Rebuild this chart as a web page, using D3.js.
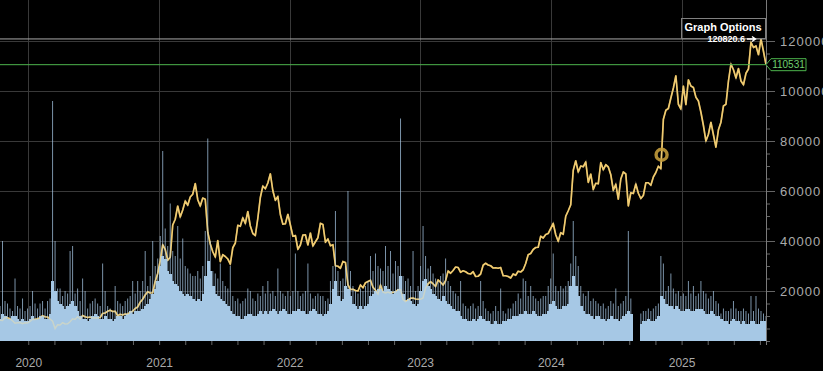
<!DOCTYPE html>
<html>
<head>
<meta charset="utf-8">
<script src="https://cdn.jsdelivr.net/npm/d3@7"></script>
<style>
body{margin:0;background:#000;}
svg{display:block;font-family:"Liberation Sans",Arial,sans-serif;}
</style>
</head>
<body>
<script>
//weekly closes (Mondays), first week 2019-10-14
var firstWeek = Date.UTC(2019, 9, 14);

var price2019 = [8300,8200,9400,9300,8800,8100,7100,7300,7400,6900,7300,7200];
var price2020 = [7800,8700,8650,8900,9300,10100,9700,9600,8800,7900,5000,6500,6400,7300,6800,6900,7700,8900,8600,9700,
	8800,10200,9700,9400,9600,9200,9300,9200,9400,11000,11200,11900,12300,11800,11900,10100,10700,10400,10800,10700,
	11500,11900,13000,13600,15500,16700,18400,19700,19200,19300,23800,27000];
var price2021 = [32000,38500,36600,32300,33500,46400,48700,54000,49600,52400,56000,54300,57600,58700,63000,56500,54000,57200,56700,43500,
	38800,35700,33600,40200,31700,34500,33800,32800,30800,37300,39200,46300,45900,49300,47000,51800,46000,43000,42200,49100,
	57400,62000,60900,63200,66900,60100,56300,57800,50600,46700,46900,50700];
var price2022 = [46400,41900,42200,36700,38400,42400,42500,38400,43200,38000,39700,41300,47100,46600,39500,40800,38100,38500,30100,29900,
	29100,31800,31400,22500,20600,20700,20200,20000,22400,21300,23300,23800,24300,21500,20300,18800,22400,19500,19200,19600,
	19100,19500,19600,20500,20600,16600,15800,16400,17100,17200,16800,16700];
var price2023 = [16700,17200,21200,22900,23700,22900,21800,24400,23500,22400,24100,28000,27100,28200,29600,29400,27500,28100,27700,27000,
	26800,27700,25800,25900,26800,30300,31100,30400,30100,29200,29300,29100,29400,26100,26100,25800,25200,26800,26300,27900,
	27600,28500,31000,34500,35000,36600,37400,37500,41900,41200,42600,43000];
var price2024 = [45000,47000,42500,39900,43300,42700,49900,52100,54500,68300,72100,67600,70000,69700,71600,63400,66800,60600,63100,62900,
	71400,68500,70500,69600,66500,60300,62700,56700,64800,67600,66800,54000,59300,59000,62800,59100,57000,58200,63300,63300,
	62300,65600,67400,69900,68900,88700,92300,93000,97200,101200,106100,94700,92800];
var price2025 = [102000,94500,104500,102000,101400,97500,96000,91500,86200,80000,82700,87500,82500,77500,84500,87500,94000,94700,104000,110800,
	108500,105200,109000,104000,102500,107100,108800,119500,117400,118000,114500,120820.6,115800,110531];

//weekly volume, typical level and largest day of the week (relative units)
var volBase = [9,11,10,9,9,10,10,9,8,9,8,8,
	9,10,9,9,10,10,9,9,11,24,20,16,15,14,13,14,15,16,14,12,10,9,9,8,9,10,11,10,9,9,10,9,9,8,9,10,10,9,10,11,12,11,12,12,12,13,14,15,17,19,21,24,
	30,34,33,28,27,24,23,22,20,19,18,19,18,17,16,17,16,19,26,32,28,22,19,18,17,16,15,14,12,11,10,10,9,9,10,11,11,10,10,11,12,11,12,11,12,13,12,11,12,13,12,11,
	11,12,12,13,12,12,11,11,12,13,12,11,11,10,11,12,15,21,24,18,16,17,22,21,18,15,14,13,14,13,14,15,18,19,20,21,21,20,22,21,20,19,20,21,26,19,16,17,16,15,14,15,
	20,24,25,22,21,19,18,17,16,18,16,15,14,13,12,12,10,9,9,8,8,9,8,9,10,9,8,8,7,7,8,7,7,8,8,9,9,10,10,10,11,11,12,11,11,12,11,10,10,11,11,12,
	15,16,14,13,13,14,14,15,22,26,22,18,14,12,11,11,10,9,10,10,9,9,8,9,10,9,9,8,9,10,11,12,11,0,0,0,7,8,8,9,8,8,9,10,18,17,15,14,14,13,14,13,12,
	12,13,13,12,12,13,13,13,12,11,11,12,11,10,10,9,8,8,7,8,9,8,8,7,8,7,7,8,8,7,7,8,8,8];
var volPeak = [14,40,16,15,13,12,25,14,13,17,12,13,
	14,20,15,13,15,16,13,16,17,96,40,21,21,18,20,19,36,38,19,21,16,25,20,13,15,16,17,15,14,31,20,14,13,12,22,16,15,14,16,17,18,24,19,24,20,24,36,22,26,40,30,33,
	42,76,45,38,55,36,34,46,33,41,30,29,27,26,26,28,25,30,44,81,40,28,27,25,31,24,22,21,30,18,16,17,15,16,17,21,20,17,16,19,18,22,19,24,19,20,18,29,20,19,18,20,
	18,20,35,20,18,19,20,31,19,17,18,19,18,18,16,17,24,30,52,28,24,25,30,60,28,22,20,19,21,20,22,24,34,28,35,30,29,28,38,30,36,27,32,30,89,26,24,25,22,36,20,22,
	30,46,34,29,30,27,25,24,26,27,33,24,22,20,19,18,24,15,14,13,14,15,13,14,24,16,13,12,11,12,14,12,21,12,11,13,13,15,16,19,17,25,24,18,22,18,17,16,17,18,18,22,
	25,35,22,20,22,21,22,24,31,48,34,30,22,19,18,20,16,17,16,15,14,15,13,14,16,15,21,14,15,16,18,44,17,0,0,0,11,12,12,13,12,13,14,15,34,31,20,22,27,21,19,20,18,
	19,18,24,19,22,18,19,24,20,19,17,18,20,16,15,11,13,12,12,13,16,13,12,12,13,12,11,18,12,18,13,12,11,10];

var yTicks = [20000,40000,60000,80000,100000,120000];
var years = [2020,2021,2022,2023,2024,2025];
var highPrice = 120820.6,
	lastPrice = 110531;
var marker = {date: Date.UTC(2024, 10, 6), value: 74500};

var price = price2019.concat(price2020, price2021, price2022, price2023, price2024, price2025);
var weeks = price.map(function(d, i){
	return new Date(firstWeek + i * 7 * 864e5);
});

//frame
var width = 823,
	height = 371,
	plotRight = 766,
	plotBottom = 341;

var svg = d3.select("body")
	.append("svg")
	.attr("width", width)
	.attr("height", height);

svg.append("rect")
	.attr("width", width)
	.attr("height", height)
	.attr("fill", "#000");

var x = d3.scaleUtc()
	.domain([weeks[0], weeks[weeks.length - 1]])
	.range([0, plotRight]);

var y = d3.scaleLinear()
	.domain([0, 120000])
	.range([plotBottom, 41]);

var yVol = d3.scaleLinear()
	.domain([0, 100])
	.range([plotBottom, 91]);

svg.append("clipPath")
	.attr("id", "plotClip")
	.append("rect")
	.attr("width", plotRight)
	.attr("height", plotBottom);

//grid lines
svg.selectAll(".hgrid")
	.data(yTicks)
	.enter()
	.append("line")
	.attr("x1", 0)
	.attr("x2", plotRight)
	.attr("y1", function(d){ return Math.round(y(d)) + 0.5; })
	.attr("y2", function(d){ return Math.round(y(d)) + 0.5; })
	.attr("stroke", "#393939");

svg.selectAll(".vgrid")
	.data(years)
	.enter()
	.append("line")
	.attr("x1", function(d){ return Math.round(x(new Date(Date.UTC(d, 0, 1)))) + 0.5; })
	.attr("x2", function(d){ return Math.round(x(new Date(Date.UTC(d, 0, 1)))) + 0.5; })
	.attr("y1", 0)
	.attr("y2", plotBottom)
	.attr("stroke", "#393939");

var line = d3.line()
	.x(function(d, i){ return x(weeks[i]); })
	.y(function(d){ return y(d); });

var plot = svg.append("g")
	.attr("clip-path", "url(#plotClip)");

//price line under the volume bars
plot.append("path")
	.datum(price)
	.attr("d", line)
	.attr("fill", "none")
	.attr("stroke", "#eab94a")
	.attr("stroke-width", 1.7)
	.attr("stroke-linejoin", "round");

var bw = x(weeks[1]) - x(weeks[0]);

plot.selectAll(".volPeak")
	.data(volPeak)
	.enter()
	.append("rect")
	.attr("x", function(d, i){ return x(weeks[i]) - 0.5; })
	.attr("width", 1)
	.attr("y", function(d){ return yVol(d); })
	.attr("height", function(d){ return plotBottom - yVol(d); })
	.attr("fill", "#a9cbe9")
	.attr("opacity", 0.72);

plot.selectAll(".volBase")
	.data(volBase)
	.enter()
	.append("rect")
	.attr("x", function(d, i){ return x(weeks[i]) - bw / 2; })
	.attr("width", bw + 0.5)
	.attr("y", function(d){ return yVol(d); })
	.attr("height", function(d){ return plotBottom - yVol(d); })
	.attr("fill", "#a6c8e5")
	.attr("shape-rendering", "crispEdges");

//faint copy of the line so it shows through the bars
plot.append("path")
	.datum(price)
	.attr("d", line)
	.attr("fill", "none")
	.attr("stroke", "#f5e2a8")
	.attr("stroke-width", 1.5)
	.attr("opacity", 0.45);

//marker ring
svg.append("circle")
	.attr("cx", x(new Date(marker.date)))
	.attr("cy", y(marker.value))
	.attr("r", 5.5)
	.attr("fill", "none")
	.attr("stroke", "#c29b3b")
	.attr("stroke-width", 3.4)
	.attr("opacity", 0.9);

//high and last price lines
var hy = y(highPrice);
svg.append("line")
	.attr("x1", 0)
	.attr("x2", plotRight)
	.attr("y1", hy)
	.attr("y2", hy)
	.attr("stroke", "#a8a8a8");

svg.append("line")
	.attr("x1", 0)
	.attr("x2", plotRight)
	.attr("y1", y(lastPrice))
	.attr("y2", y(lastPrice))
	.attr("stroke", "#4db34d");

//y axis on the right
var minorAxis = d3.axisRight(y)
	.tickValues(d3.range(0, 125000, 5000))
	.tickSize(4)
	.tickFormat("");

svg.append("g")
	.attr("transform", "translate(" + plotRight + ",0)")
	.call(minorAxis)
	.call(function(g){ g.select(".domain").remove(); })
	.selectAll("line")
	.attr("stroke", "#666");

var yAxis = d3.axisRight(y)
	.tickValues(yTicks)
	.tickSize(9)
	.tickPadding(5)
	.tickFormat(d3.format("d"));

var yAxisG = svg.append("g")
	.attr("transform", "translate(" + plotRight + ",0)")
	.call(yAxis);
yAxisG.select(".domain").remove();
yAxisG.selectAll("line").attr("stroke", "#666");
yAxisG.selectAll("text")
	.attr("fill", "#aaa")
	.attr("font-size", 13)
	.attr("letter-spacing", 1)
	.attr("font-family", "Liberation Sans, Arial, sans-serif");

svg.append("line")
	.attr("x1", plotRight + 0.5)
	.attr("x2", plotRight + 0.5)
	.attr("y1", 0)
	.attr("y2", plotBottom + 4)
	.attr("stroke", "#7a7a7a");

//x axis: five ticks per year, labels on years
var minorX = [];
years.forEach(function(yr){
	var a = x(new Date(Date.UTC(yr, 0, 1))),
		b = x(new Date(Date.UTC(yr + 1, 0, 1)));
	for (var k = 0; k < 5; k++){
		var px = a + k * (b - a) / 5;
		if (px <= plotRight) minorX.push(x.invert(px));
	}
});

var xMinor = d3.axisBottom(x)
	.tickValues(minorX)
	.tickSize(4)
	.tickFormat("");

svg.append("g")
	.attr("transform", "translate(0," + plotBottom + ")")
	.call(xMinor)
	.call(function(g){ g.select(".domain").remove(); })
	.selectAll("line")
	.attr("stroke", "#666");

var xAxis = d3.axisBottom(x)
	.tickValues(years.map(function(yr){ return new Date(Date.UTC(yr, 0, 1)); }))
	.tickSize(0)
	.tickPadding(17)
	.tickFormat(d3.utcFormat("%Y"));

var xAxisG = svg.append("g")
	.attr("transform", "translate(0," + plotBottom + ")")
	.call(xAxis);
xAxisG.select(".domain").remove();
xAxisG.selectAll("text")
	.attr("fill", "#aaa")
	.attr("font-size", 12)
	.attr("font-family", "Liberation Sans, Arial, sans-serif");

//last price tag
var ly = y(lastPrice);
svg.append("path")
	.attr("d", "M" + plotRight + "," + ly + "L" + (plotRight + 5) + "," + (ly - 6) + "H806V" + (ly + 6) + "H" + (plotRight + 5) + "Z")
	.attr("fill", "#000")
	.attr("stroke", "#4db34d");

svg.append("text")
	.attr("x", 788.5)
	.attr("y", ly + 3.6)
	.attr("text-anchor", "middle")
	.attr("font-size", 10)
	.attr("fill", "#6fcf6f")
	.text(d3.format("d")(lastPrice));

//options box and high label
svg.append("rect")
	.attr("x", 681.5)
	.attr("y", 18.5)
	.attr("width", 84)
	.attr("height", 20)
	.attr("fill", "none")
	.attr("stroke", "#808080");

svg.append("text")
	.attr("x", 723)
	.attr("y", 31)
	.attr("text-anchor", "middle")
	.attr("font-size", 11)
	.attr("font-weight", "bold")
	.attr("fill", "#fff")
	.text("Graph Options");

svg.append("text")
	.attr("x", 745)
	.attr("y", hy + 3.3)
	.attr("text-anchor", "end")
	.attr("font-size", 9)
	.attr("font-weight", "bold")
	.attr("fill", "#fff")
	.text(highPrice);

//small arrow after the high value
svg.append("path")
	.attr("d", "M747," + hy + "H755M752," + (hy - 2.5) + "L755.5," + hy + "L752," + (hy + 2.5))
	.attr("fill", "none")
	.attr("stroke", "#fff")
	.attr("stroke-width", 1.4);
</script>
</body>
</html>
